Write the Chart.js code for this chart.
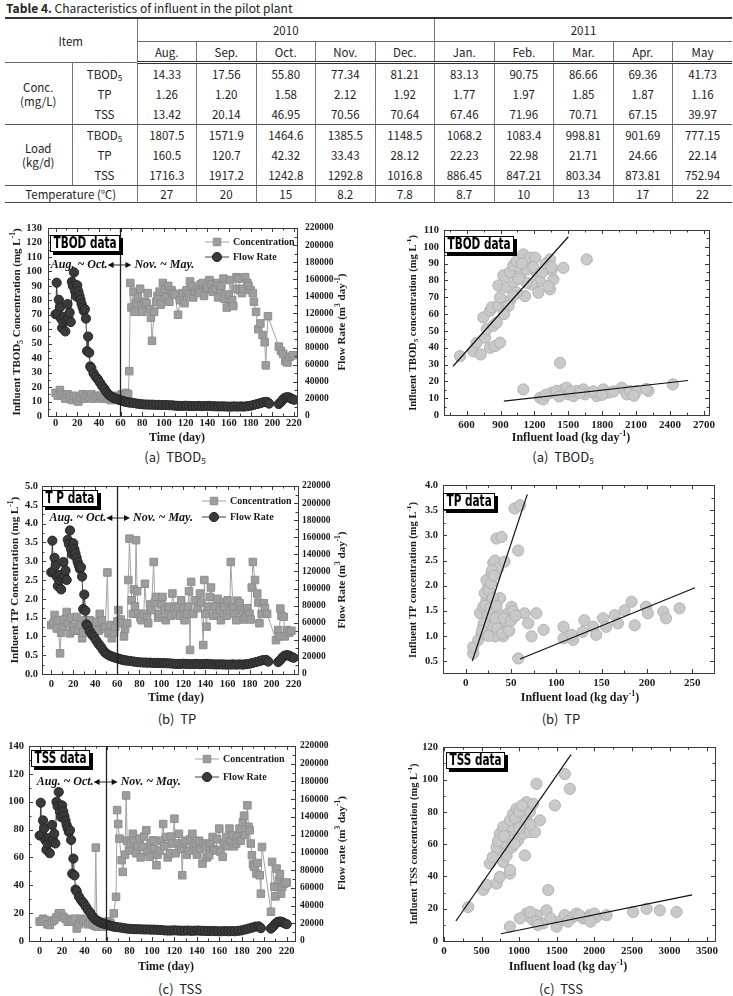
<!DOCTYPE html>
<html>
<head>
<meta charset="utf-8">
<script src="https://cdn.jsdelivr.net/npm/chart.js@4.4.1/dist/chart.umd.min.js"></script>
<style>
  body { margin: 0; width: 733px; height: 996px; background: #fff; position: relative; overflow: hidden;
         font-family: "Noto Sans CJK KR", "Noto Sans", sans-serif; color: #222; }
  #ttl { position: absolute; left: 6px; top: 0px; font-size: 12px; line-height: 16px; }
  #ttl b { font-weight: 700; }
  #tbl { position: absolute; left: 5px; top: 17px; width: 727px; border-collapse: collapse; table-layout: fixed;
         font-size: 11.5px; border-top: 2px solid #333; border-bottom: 1px solid #444; }
  #tbl td { padding: 0; text-align: center; border-left: 1px solid #777; line-height: 14px; }
  #tbl td.nl { border-left: none; }
  #tbl tr.r1 td { height: 22px; border-bottom: 1px solid #666; }
  #tbl tr.r2 td, #tbl td.item { height: 19px; border-bottom: 3px double #333; }
  #tbl tr.g0 td, #tbl tr.g1 td, #tbl tr.g2 td { height: 20px; }
  #tbl tr.g2 td, #tbl tr.g0 td.nl { border-bottom: 1px solid #555; }
  #tbl tr.rt td { height: 16px; }
  sub { font-size: 8px; vertical-align: -2px; line-height: 0; }
  .cap { position: absolute; transform: translate(-50%, -50%); font-size: 13px; white-space: nowrap; color: #222; }
</style>
</head>
<body>
<div id="ttl"><b>Table 4.</b> Characteristics of influent in the pilot plant</div>
<table id="tbl"></table>

<div class="cap" style="left:175px;top:456px">(a)&nbsp; TBOD<sub>5</sub></div>
<div class="cap" style="left:563px;top:456px">(a)&nbsp; TBOD<sub>5</sub></div>
<div class="cap" style="left:177px;top:718px">(b)&nbsp; TP</div>
<div class="cap" style="left:561px;top:718px">(b)&nbsp; TP</div>
<div class="cap" style="left:180px;top:988px">(c)&nbsp; TSS</div>
<div class="cap" style="left:561px;top:988px">(c)&nbsp; TSS</div>

<script>
// ---- table values ----
const tblMonths = ['Aug.', 'Sep.', 'Oct.', 'Nov.', 'Dec.', 'Jan.', 'Feb.', 'Mar.', 'Apr.', 'May'];
const concTbod = ['14.33', '17.56', '55.80', '77.34', '81.21', '83.13', '90.75', '86.66', '69.36', '41.73'];
const concTp = ['1.26', '1.20', '1.58', '2.12', '1.92', '1.77', '1.97', '1.85', '1.87', '1.16'];
const concTss = ['13.42', '20.14', '46.95', '70.56', '70.64', '67.46', '71.96', '70.71', '67.15', '39.97'];
const loadTbod = ['1807.5', '1571.9', '1464.6', '1385.5', '1148.5', '1068.2', '1083.4', '998.81', '901.69', '777.15'];
const loadTp = ['160.5', '120.7', '42.32', '33.43', '28.12', '22.23', '22.98', '21.71', '24.66', '22.14'];
const loadTss = ['1716.3', '1917.2', '1242.8', '1292.8', '1016.8', '886.45', '847.21', '803.34', '873.81', '752.94'];
const tempC = ['27', '20', '15', '8.2', '7.8', '8.7', '10', '13', '17', '22'];

// ---- flow rate (m3/day), shared by the three time charts ----
const flowDays = [0,1,2,3,4,5,6,7,8,9,10,11,12,13,14,15,16,17,18,19,20,21,22,23,24,25,26,27,28,29,30,31,32,33,35,37,39,41,43,45,47,49,51,53,55,57,59,61,63,65,67,69,72,75,78,81,84,87,90,93,96,99,102,105,108,111,114,117,120,123,126,129,132,135,138,141,144,147,150,153,156,159,162,165,168,171,174,177,180,183,186,189,192,195,197,206,208,210,212,214,216,218,220];
const flowRate = [119000,156000,120000,136000,127000,114000,103000,110000,116000,99000,112000,131000,114000,121000,110000,157000,152000,168000,146000,140000,153000,146000,141000,136000,131000,127000,123000,125000,114000,76000,93000,74000,58000,56000,50000,46000,43000,39000,35000,32000,28000,25000,23000,21500,20500,19500,18800,18000,17200,16500,16000,15600,15200,14500,14000,13600,13400,13300,13200,13000,13000,12800,12800,12600,12400,12000,11800,11800,12000,11800,11600,11600,11800,11500,11600,11800,11500,11400,11200,11300,11200,11000,11000,11200,11000,11200,11000,11500,12000,13000,14000,15000,16200,16500,14500,14000,16500,19500,21500,22000,21500,20000,19000];

// ---- TBOD5 concentration (mg/L) ----
const tbodDays = [0,2,4,5,7,9,11,13,15,17,19,21,23,25,27,29,31,33,35,37,39,41,43,45,47,49,51,53,55,57,59,61,63,65,67,68,69,70,72,73,74,76,78,79,80,82,84,85,87,88,89,91,93,94,96,97,99,101,102,104,105,107,108,110,113,115,117,119,121,123,124,126,127,129,131,133,134,136,137,139,140,142,144,145,147,149,150,152,153,155,156,158,160,161,163,164,166,167,169,170,172,173,175,177,178,180,182,183,185,187,189,191,193,194,196,206,208,210,212,214,216,219];
const tbodConc = [16,14,18,15,14,12,15,13,11,14,12,10,13,15,12,14,13,15,12,14,13,14,12,13,14,12,11,13,12,14,13,15,14,16,15,31,92,75,86,72,78,82,88,76,72,79,78,85,74,68,52,72,79,83,86,77,92,88,82,90,79,87,85,84,70,80,85,78,87,84,93,90,82,86,88,85,91,92,83,88,89,94,91,86,88,92,82,87,90,95,81,75,84,94,80,76,88,96,95,87,85,88,96,92,90,87,85,79,72,60,64,56,51,35,69,48,45,43,38,37,41,42];

// ---- TP concentration (mg/L) ----
const tpDays = [0,2,3,5,6,8,9,11,12,14,15,17,18,20,21,23,24,26,28,29,31,33,35,37,38,40,41,43,44,46,48,49,51,52,54,55,57,58,60,61,63,64,66,67,69,70,71,73,74,75,76,77,78,79,81,82,84,85,87,88,90,91,93,94,95,97,98,100,101,103,104,106,107,109,110,112,113,115,117,118,120,121,123,124,125,126,127,129,131,133,135,136,138,139,140,141,142,144,145,147,148,150,151,153,154,156,157,159,160,162,163,165,166,168,169,171,172,174,175,177,178,180,181,182,183,185,187,188,189,191,193,194,196,204,206,207,208,209,211,212,214,216,218];
const tpConc = [1.30,1.35,1.57,1.21,1.43,0.55,1.10,1.26,1.45,1.65,1.35,1.08,1.50,1.26,1.15,1.52,1.17,1.30,0.95,1.10,1.43,1.20,1.43,1.10,1.26,1.20,1.39,1.15,1.60,1.43,1.20,1.26,2.70,1.08,1.30,0.95,1.10,1.26,1.40,1.70,1.45,1.35,1.00,1.20,1.35,2.50,3.60,1.96,1.60,2.25,1.80,3.56,2.20,1.60,1.50,1.43,1.60,2.40,1.50,1.35,1.85,1.70,2.98,1.90,2.05,1.50,1.60,1.85,2.05,1.70,1.43,1.60,1.79,1.55,2.14,1.75,1.60,1.80,1.55,1.96,1.75,1.43,1.60,1.79,2.20,0.64,2.45,1.60,1.96,1.75,2.14,1.90,0.77,2.50,1.60,1.26,1.79,2.05,2.30,1.55,1.79,1.60,2.00,1.70,1.43,1.90,1.79,1.55,1.96,1.70,2.98,1.79,1.60,1.43,1.95,1.88,1.70,1.60,1.45,1.52,1.75,1.60,1.45,2.30,2.98,2.50,2.14,1.90,1.35,1.60,1.88,1.75,1.60,0.90,1.17,1.00,1.74,1.55,1.52,1.00,1.17,1.10,1.15];

// ---- TSS concentration (mg/L) ----
const tssDays = [0,1,3,5,7,9,11,13,15,17,19,21,23,25,27,29,31,33,35,37,39,41,43,45,47,49,50,51,53,55,57,59,61,63,66,68,69,70,71,73,74,76,77,78,80,81,83,84,86,87,89,90,92,93,95,96,98,99,101,102,104,105,107,108,110,111,113,114,116,117,118,120,121,123,124,126,127,128,130,131,133,134,136,137,139,140,142,143,145,146,148,149,151,152,154,155,157,158,160,161,163,164,166,167,169,170,172,173,175,176,178,179,181,182,183,185,186,187,188,189,190,191,193,194,196,197,198,206,207,209,210,211,213,214,215,216,218,220];
const tssConc = [14,13.8,16,15,12,11.5,14,15,17,19.8,20,17.4,16,13.8,15,13.8,16,9,12,16,14,15,12,13.8,12,11,67,10.3,13.8,12,10.3,12.6,14,13,19.8,31.7,94,84,73.5,58,49.6,62,104.5,72,65,70,77,72,63,68,73.5,60,67.5,75,79.5,64,60.4,70,72.3,66,54.4,62,65,72,84,68,74.7,60,62.8,75,70,87.8,63,70,77,66,47.2,70,72,62,65,73,77,68,70,62,72,66,55.6,70,67.5,60,61.6,70,74.7,66,65,73,80.7,64,60.4,70,74.7,68,80.7,72,75.9,68,70,75,80.7,72,85.4,90,76,97.4,82,79.5,70,61.6,55,53.2,48.4,56,47.2,34,67.5,21,56.8,39,32,52,43.7,48,34,39,41.3,42];

// ---- concentration vs load scatter ----
const tbodLoad = [541,659,724,689,763,807,851,896,778,837,866,748,807,822,880,955,984,896,881,955,1014,925,984,1014,1043,1102,1073,1132,1161,1206,1220,1250,1176,1117,1132,1043,1235,1338,1368,1338,1323,1456,1353,1663,1014,970,930,1060,1090,1190,1270,1300,1350,
  1102,1250,1279,1353,1397,1456,1485,1500,1545,1574,1633,1648,1751,1810,1854,1973,2017,2047,2106,2209,1427,2425,1722,1900,1300,1420,1520,1600,1800,2080,2190];
const tbodConcS = [35,38,36,43,46,40,41,43,51,53,55,58,62,64,65,66,68,70,77,76,79,83,85,89,91.5,95.5,83,86.5,93.5,93.5,84.5,79.6,77.6,70.7,78.6,72.7,72.7,92.5,80.6,74.7,76.6,87.5,86.5,92.5,70.7,64.8,60,81,90,88,85,90,88,
  15.2,10.3,9.3,13.3,14.3,15.2,16.2,12.3,11.3,14.3,15.2,12.3,11.3,15.2,13.3,16.2,12.3,14.3,14.3,14.3,31,18.2,14,14,12,11,14,13,12,11.5,15.5];
const tpLoad = [8.4,8.4,14,17.6,19.5,15.8,19.5,23,21,25,23,28.6,30.5,32.3,36,43,34,39.6,54,60,58,26.8,30.5,36,38,45,41.4,32.3,47,50.6,52.5,38,65,69,78,72.7,86,58,108,108,118.6,117,129,131,140.6,144,151.6,155,164.4,168,175.4,183,186.5,199,201,218,221,236,
  22,26,28,30,24,27,33,35,40,44,48,29,31,20,18,25,34,42,50,55];
const tpConcS = [0.65,0.78,0.92,1.05,1.18,1.45,1.58,1.71,1.85,1.98,2.11,2.25,2.45,2.5,2.35,2.48,2.94,2.97,3.54,3.6,2.7,1.31,1.18,1.45,1.25,1.12,0.99,0.99,1.45,1.58,1.49,1.75,1.45,1.25,1.45,0.99,1.12,0.55,1.18,0.95,0.92,1.02,1.08,1.31,1.18,1.02,1.35,1.18,1.41,1.25,1.51,1.68,1.21,1.58,1.45,1.48,1.35,1.55,
  1.6,1.9,2.05,1.75,1.4,1.55,1.35,1.15,1.05,1.3,1.1,2.3,2.2,1.25,1.1,1.0,1.6,1.35,1.3,1.4];
const tssLoad = [323,523,567,611,700,744,877,766,700,833,744,789,877,921,966,921,855,988,1055,1010,1099,1143,1099,1188,1232,1077,1276,1476,1608,1675,789,833,1143,1210,1387,650,720,800,900,950,1000,1040,1150,1000,880,940,
  877,1099,1143,1188,1232,1321,1365,1498,1564,1608,1719,1763,1852,1940,2029,2162,2516,2694,2871,3093,1232,1010,1150,1250,1420,1650,1900,2000,1800,1950];
const tssConcS = [21,31.7,34.8,48,35.6,39.7,41.8,56,58,60,66.5,70.6,74.7,78.8,82,68.5,64.4,62.4,66.5,72.7,74.7,80,86,85,97.4,53,74.7,84,103.5,94.3,49,53,67.5,67.5,31.5,52,62,65,58,76,80,84,72,70,44,60,
  8.9,17,15,13,16,11,19,8.9,13,16,15,17,14,16,15,16,18,20,19,18,12,14,18,10,14,12,14,17,16,12];

// fitted lines (two end points each)
const tbodFitUpper = [[480, 29], [1500, 106]];
const tbodFitLower = [[930, 8.3], [2560, 20.5]];
const tpFitUpper = [[7.3, 0.5], [68, 3.82]];
const tpFitLower = [[60, 0.54], [253, 1.96]];
const tssFitUpper = [[160, 12.4], [1690, 115.5]];
const tssFitLower = [[760, 4.5], [3300, 28.6]];

// tick values
const timeTicks = [0,20,40,60,80,100,120,140,160,180,200,220];
const flowTicks = [0,20000,40000,60000,80000,100000,120000,140000,160000,180000,200000,220000];
const tbodTicks = [0,10,20,30,40,50,60,70,80,90,100,110,120,130];
const tpTicks = [0,0.5,1.0,1.5,2.0,2.5,3.0,3.5,4.0,4.5,5.0];
const tssTicks = [0,20,40,60,80,100,120,140];
const tbodLoadTicks = [600,900,1200,1500,1800,2100,2400,2700];
const tbodConcTicks = [0,10,20,30,40,50,60,70,80,90,100,110];
const tpLoadTicks = [0,50,100,150,200,250];
const tpConcTicks = [0.5,1.0,1.5,2.0,2.5,3.0,3.5,4.0];
const tssLoadTicks = [0,500,1000,1500,2000,2500,3000,3500];
const tssConcTicks = [0,20,40,60,80,100,120];

const SERIF = '"Liberation Serif", "Times New Roman", serif';

// build the table from the arrays above
function buildTable() {
  let h = '<colgroup><col style="width:67px"><col style="width:65px">' + tblMonths.map(() => '<col>').join('') + '</colgroup>';
  h += '<tr class="r1"><td class="nl item" rowspan="2" colspan="2">Item</td><td colspan="5">2010</td><td colspan="5">2011</td></tr>';
  h += '<tr class="r2">' + tblMonths.map(m => `<td>${m}</td>`).join('') + '</tr>';
  const subs = ['TBOD<sub>5</sub>', 'TP', 'TSS'];
  const groups = [['Conc.<br>(mg/L)', [concTbod, concTp, concTss]], ['Load<br>(kg/d)', [loadTbod, loadTp, loadTss]]];
  groups.forEach(([name, rows]) => {
    rows.forEach((vals, i) => {
      h += `<tr class="g${i}">` + (i === 0 ? `<td class="nl" rowspan="3">${name}</td>` : '') +
           `<td>${subs[i]}</td>` + vals.map(v => `<td>${v}</td>`).join('') + '</tr>';
    });
  });
  h += '<tr class="rt"><td class="nl" colspan="2">Temperature (\u2103)</td>' + tempC.map(v => `<td>${v}</td>`).join('') + '</tr>';
  document.getElementById('tbl').innerHTML = h;
}
buildTable();

// text with _{sub} and ^{sup} parts, centred on (x, y), optionally turned upward
function drawRich(ctx, text, x, y, size, vertical) {
  const segs = text.split(/(\^\{[^}]*\}|_\{[^}]*\})/).filter(p => p).map(p => {
    if (p.startsWith('^{')) return {t: p.slice(2, -1), dy: -size * 0.38, s: size * 0.68};
    if (p.startsWith('_{')) return {t: p.slice(2, -1), dy: size * 0.28, s: size * 0.68};
    return {t: p, dy: 0, s: size};
  });
  ctx.save();
  ctx.translate(x, y);
  if (vertical) ctx.rotate(-Math.PI / 2);
  ctx.textBaseline = 'middle';
  ctx.textAlign = 'left';
  ctx.fillStyle = '#1a1a1a';
  let w = 0;
  segs.forEach(g => { ctx.font = `bold ${g.s}px ${SERIF}`; g.w = ctx.measureText(g.t).width; w += g.w; });
  let cx = -w / 2;
  segs.forEach(g => { ctx.font = `bold ${g.s}px ${SERIF}`; ctx.fillText(g.t, cx, g.dy); cx += g.w; });
  ctx.restore();
}

// inward tick marks on one side of the plot frame
function inTicks(ctx, scale, side, a) {
  const vals = scale.ticks.map(t => t.value);
  const step = vals[1] - vals[0];
  const minor = [vals[0] - step / 2, vals[vals.length - 1] + step / 2];
  for (let i = 0; i < vals.length - 1; i++) minor.push((vals[i] + vals[i + 1]) / 2);
  const mark = (v, len) => {
    const p = Math.round(scale.getPixelForValue(v)) + 0.5;
    if (scale.isHorizontal()) {
      if (p < a.left || p > a.right) return;
      const y = side === 'top' ? a.top : a.bottom;
      ctx.moveTo(p, y);
      ctx.lineTo(p, side === 'top' ? y + len : y - len);
    } else {
      if (p < a.top || p > a.bottom) return;
      const x = side === 'left' ? a.left : a.right;
      ctx.moveTo(x, p);
      ctx.lineTo(side === 'left' ? x + len : x - len, p);
    }
  };
  ctx.beginPath();
  vals.forEach(v => mark(v, 4));
  minor.forEach(v => mark(v, 2.5));
  ctx.stroke();
}

// frame, ticks, period note, data tag, legend and axis titles
const deco = {
  id: 'deco',
  afterDraw(chart, args, o) {
    const ctx = chart.ctx, a = chart.chartArea;
    const ox = o.off[0], oy = o.off[1];
    ctx.save();
    ctx.strokeStyle = '#3a3a3a';
    ctx.lineWidth = 1;
    Object.keys(o.tickSides).forEach(id => o.tickSides[id].forEach(side => inTicks(ctx, chart.scales[id], side, a)));
    ctx.strokeRect(Math.round(a.left) + 0.5, Math.round(a.top) + 0.5, Math.round(a.right - a.left), Math.round(a.bottom - a.top));

    if (o.split) {
      const xs = chart.scales.x, sp = o.split;
      const px = Math.round(xs.getPixelForValue(sp.at)) + 0.5;
      ctx.strokeStyle = '#222';
      ctx.lineWidth = 1.3;
      ctx.beginPath(); ctx.moveTo(px, a.top); ctx.lineTo(px, a.bottom); ctx.stroke();
      const y = a.top + sp.dy;
      const x1 = xs.getPixelForValue(sp.from), x2 = xs.getPixelForValue(sp.to);
      ctx.lineWidth = 1;
      ctx.beginPath(); ctx.moveTo(x1 + 4, y); ctx.lineTo(x2 - 4, y); ctx.stroke();
      ctx.fillStyle = '#111';
      ctx.beginPath(); ctx.moveTo(x1, y); ctx.lineTo(x1 + 6, y - 3); ctx.lineTo(x1 + 6, y + 3); ctx.fill();
      ctx.beginPath(); ctx.moveTo(x2, y); ctx.lineTo(x2 - 6, y - 3); ctx.lineTo(x2 - 6, y + 3); ctx.fill();
      ctx.font = `bold italic 12px ${SERIF}`;
      ctx.textBaseline = 'middle';
      ctx.textAlign = 'right'; ctx.fillText(sp.left, x1, y);
      ctx.textAlign = 'left'; ctx.fillText(sp.right, x2 + 3, y);
    }

    if (o.tag) {
      const sx = 0.7;
      ctx.font = 'bold 15px "DejaVu Sans", sans-serif';
      const tw = ctx.measureText(o.tag.text).width * sx;
      const bx = Math.round(a.left + o.tag.dx), by = Math.round(a.top + o.tag.dy), bw = Math.round(tw + 7), bh = 17;
      ctx.fillStyle = '#000'; ctx.fillRect(bx + 3, by + 3, bw, bh);
      ctx.fillStyle = '#fff'; ctx.fillRect(bx, by, bw, bh);
      ctx.strokeStyle = '#000'; ctx.lineWidth = 1; ctx.strokeRect(bx + 0.5, by + 0.5, bw - 1, bh - 1);
      ctx.save();
      ctx.translate(bx + 3.5, by + bh / 2 + 1);
      ctx.scale(sx, 1);
      ctx.fillStyle = '#000'; ctx.textBaseline = 'middle'; ctx.textAlign = 'left';
      ctx.fillText(o.tag.text, 0, 0);
      ctx.restore();
    }

    if (o.legend) {
      chart.data.datasets.forEach((ds, i) => {
        const y = a.top + o.legend.dy[i], x0 = a.right - o.legend.dx;
        ctx.strokeStyle = ds.borderColor; ctx.lineWidth = 1;
        ctx.beginPath(); ctx.moveTo(x0, y); ctx.lineTo(x0 + 24, y); ctx.stroke();
        ctx.fillStyle = ds.pointBackgroundColor; ctx.strokeStyle = ds.pointBorderColor;
        Chart.helpers.drawPoint(ctx, {pointStyle: ds.pointStyle, radius: ds.pointRadius, rotation: 0, borderWidth: 1}, x0 + 12, y);
        ctx.fillStyle = '#1a1a1a'; ctx.font = `bold 10px ${SERIF}`;
        ctx.textAlign = 'left'; ctx.textBaseline = 'middle';
        ctx.fillText(ds.label, x0 + 28, y);
      });
    }

    (o.titles || []).forEach(t => drawRich(ctx, t.text, t.x - ox, t.y - oy, t.size, t.v));
    ctx.restore();
  }
};
Chart.register(deco);

function addCanvas(id, g) {
  const c = document.createElement('canvas');
  c.id = id;
  c.width = g.cw;
  c.height = g.ch;
  c.style.cssText = `position:absolute;left:${g.cx}px;top:${g.cy}px;width:${g.cw}px;height:${g.ch}px`;
  document.body.appendChild(c);
  return c.getContext('2d');
}

// linear axis with fixed box size and explicit tick list
function axis(pos, min, max, ticks, size, font, pad, fmt) {
  return {
    type: 'linear', position: pos, min: min, max: max,
    grid: {display: false, drawTicks: false},
    border: {display: false},
    afterBuildTicks: s => { s.ticks = ticks.map(v => ({value: v})); },
    afterFit: s => { if (s.isHorizontal()) s.height = size; else s.width = size; },
    ticks: {autoSkip: false, maxRotation: 0, padding: pad, color: '#1a1a1a',
            font: {family: SERIF, weight: 'bold', size: font}, callback: fmt || (v => String(v))}
  };
}

const pairs = (xs, ys) => xs.map((x, i) => ({x: x, y: ys[i]}));

/**
 * concentration + flow rate against time
 */
function timeChart(id, g, days, conc, yr, yTicks, yFmt, pads, deco) {
  const ctx = addCanvas(id, g);
  return new Chart(ctx, {
    type: 'line',
    data: {
      datasets: [
        {label: 'Concentration', data: pairs(days, conc), yAxisID: 'y', order: 1,
         borderColor: '#a3a3a3', borderWidth: 1, pointStyle: 'rect', pointRadius: 5.3,
         pointBackgroundColor: '#9d9d9d', pointBorderColor: '#8e8e8e', pointBorderWidth: 1},
        {label: 'Flow Rate', data: pairs(flowDays, flowRate), yAxisID: 'y2', order: 0,
         borderColor: '#3e3e3e', borderWidth: 1, pointStyle: 'circle', pointRadius: 4.6,
         pointBackgroundColor: '#3a3a3a', pointBorderColor: '#262626', pointBorderWidth: 1}
      ]
    },
    options: {
      responsive: false, animation: false, events: [],
      layout: {padding: {top: g.t - g.cy, left: 0, right: 0, bottom: 0}},
      plugins: {legend: {display: false}, tooltip: {enabled: false},
                deco: Object.assign({off: [g.cx, g.cy], tickSides: {x: ['bottom', 'top'], y: ['left'], y2: ['right']}}, deco)},
      scales: {
        x: axis('bottom', g.xmin, g.xmax, timeTicks, g.cy + g.ch - g.b, 10.5, pads[0]),
        y: axis('left', yr[0], yr[1], yTicks, g.l - g.cx, 10.5, pads[1], yFmt),
        y2: axis('right', 0, 220000, flowTicks, g.cx + g.cw - g.r, 9.5, pads[2])
      }
    }
  });
}

/**
 * concentration against load, with the two fitted lines
 */
function loadChart(id, g, xs, ys, fits, xr, xTicks, yr, yTicks, yFmt, deco) {
  const ctx = addCanvas(id, g);
  const fitSet = f => ({type: 'line', showLine: true, data: f.map(p => ({x: p[0], y: p[1]})), order: 0,
                        borderColor: '#111', borderWidth: 1.2, pointRadius: 0});
  return new Chart(ctx, {
    type: 'scatter',
    data: {
      datasets: [
        fitSet(fits[0]), fitSet(fits[1]),
        {data: pairs(xs, ys), order: 1, pointRadius: 5.6, pointBackgroundColor: '#c9c9c9',
         pointBorderColor: '#b2b2b2', pointBorderWidth: 1}
      ]
    },
    options: {
      responsive: false, animation: false, events: [],
      layout: {padding: {top: g.t - g.cy, left: 0, right: g.cx + g.cw - g.r, bottom: 0}},
      plugins: {legend: {display: false}, tooltip: {enabled: false},
                deco: Object.assign({off: [g.cx, g.cy], tickSides: {x: ['bottom', 'top'], y: ['left', 'right']}}, deco)},
      scales: {
        x: axis('bottom', xr[0], xr[1], xTicks, g.cy + g.ch - g.b, 11, 4),
        y: axis('left', yr[0], yr[1], yTicks, g.l - g.cx, 10.5, 5, yFmt)
      }
    }
  });
}

const oneDec = v => v.toFixed(1);
const flowTitle = 'Flow Rate (m^{3} day^{-1})';

// (a) TBOD5 vs time
timeChart('tbodTime', {cx: 0, cy: 212, cw: 365, ch: 238, l: 48, t: 228, r: 297, b: 416, xmin: -7, xmax: 222.8},
  tbodDays, tbodConc, [0, 130], tbodTicks, null, [1, 6, 8], {
    split: {at: 59.5, from: 48, to: 70, dy: 37, left: 'Aug. ~ Oct.', right: 'Nov. ~ May.'},
    tag: {text: 'TBOD data', dx: 1.5, dy: 7},
    legend: {dx: 92, dy: [14, 29]},
    titles: [
      {text: 'Influent TBOD_{5} Concentration (mg L^{-1})', x: 17.5, y: 322, size: 11, v: true},
      {text: flowTitle, x: 342, y: 322, size: 11, v: true},
      {text: 'Time (day)', x: 177, y: 438, size: 12}
    ]
  });

// (b) TP vs time
timeChart('tpTime', {cx: 0, cy: 474, cw: 365, ch: 234, l: 42, t: 486, r: 298, b: 674, xmin: -8.4, xmax: 224},
  tpDays, tpConc, [0, 5], tpTicks, oneDec, [4, 4, 4], {
    split: {at: 59.5, from: 50, to: 71.5, dy: 32, left: 'Aug. ~ Oct.', right: 'Nov. ~ May.'},
    tag: {text: 'T P data', dx: 0, dy: 4},
    legend: {dx: 96, dy: [15, 31]},
    titles: [
      {text: 'Influent TP Concentration (mg L^{-1})', x: 15, y: 580, size: 11, v: true},
      {text: flowTitle, x: 342, y: 580, size: 11, v: true},
      {text: 'Time (day)', x: 176, y: 698, size: 12}
    ]
  });

// (c) TSS vs time
timeChart('tssTime', {cx: 0, cy: 734, cw: 365, ch: 242, l: 29, t: 746, r: 295, b: 941, xmin: -9.5, xmax: 227.4},
  tssDays, tssConc, [0, 140], tssTicks, null, [4, 5, 5], {
    split: {at: 59.5, from: 48, to: 69.5, dy: 36, left: 'Aug. ~ Oct.', right: 'Nov. ~ May.'},
    tag: {text: 'TSS data', dx: 2, dy: 4},
    legend: {dx: 100, dy: [13, 31]},
    titles: [
      {text: 'Flow rate (m^{3} day^{-1})', x: 342, y: 843, size: 11, v: true},
      {text: 'Time (day)', x: 166, y: 967, size: 12}
    ]
  });

// (a) TBOD5 vs load
loadChart('tbodLoad', {cx: 395, cy: 216, cw: 335, ch: 232, l: 444, t: 230, r: 709, b: 415},
  tbodLoad, tbodConcS, [tbodFitUpper, tbodFitLower], [400, 2745], tbodLoadTicks, [0, 110], tbodConcTicks, null, {
    tag: {text: 'TBOD data', dx: 0, dy: 6},
    titles: [
      {text: 'Influent TBOD_{5} concentration (mg L^{-1})', x: 413, y: 323, size: 10.5, v: true},
      {text: 'Influent load (kg day^{-1})', x: 571, y: 438, size: 12}
    ]
  });

// (b) TP vs load
loadChart('tpLoad', {cx: 395, cy: 474, cw: 335, ch: 234, l: 443, t: 485, r: 714, b: 673},
  tpLoad, tpConcS, [tpFitUpper, tpFitLower], [-25, 274], tpLoadTicks, [0.26, 4.0], tpConcTicks, oneDec, {
    tag: {text: 'TP data', dx: 0, dy: 8},
    titles: [
      {text: 'Influent TP concentration (mg L^{-1})', x: 413, y: 580, size: 10.5, v: true},
      {text: 'Influent load (kg day^{-1})', x: 580, y: 698, size: 12}
    ]
  });

// (c) TSS vs load
loadChart('tssLoad', {cx: 395, cy: 736, cw: 335, ch: 240, l: 443, t: 747, r: 715, b: 941},
  tssLoad, tssConcS, [tssFitUpper, tssFitLower], [-12, 3605], tssLoadTicks, [0, 120], tssConcTicks, null, {
    tag: {text: 'TSS data', dx: 3, dy: 5},
    titles: [
      {text: 'Influent TSS concentration (mg L^{-1})', x: 414, y: 844, size: 10.5, v: true},
      {text: 'Influent load (kg day^{-1})', x: 568, y: 967, size: 12}
    ]
  });
</script>
</body>
</html>
